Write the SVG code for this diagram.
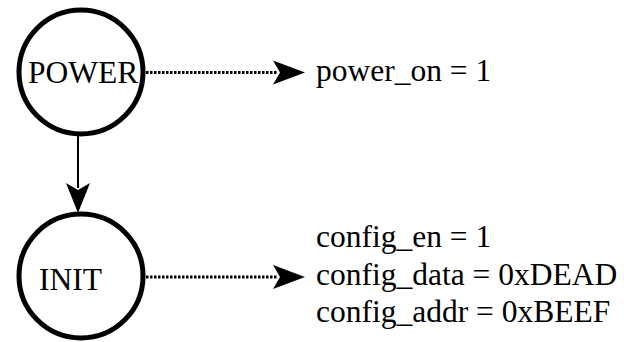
<svg xmlns="http://www.w3.org/2000/svg" width="624" height="342" viewBox="0 0 624 342">
  <style>
    .state { fill: #ffffff; stroke: #000000; stroke-width: 5; }
    .label { font-family: "Liberation Serif", "Times New Roman", serif; font-size: 31.5px; fill: #000000; }
    .flow { stroke: #000000; stroke-width: 2; fill: none; }
    .dotted { stroke: #000000; stroke-width: 3; stroke-dasharray: 2.5 1.5; fill: none; }
    .head { fill: #000000; stroke: none; }
  </style>
  <rect width="624" height="342" fill="#ffffff"/>

  <g id="connectors">
    <!-- POWER -> INIT transition -->
    <line class="flow" x1="78" y1="136" x2="78" y2="188"/>
    <path class="head" d="M78 213 L66 183 L78 190 L90 183 Z"/>
    <!-- POWER output -->
    <line class="dotted" x1="146" y1="72.5" x2="278" y2="72.5"/>
    <path class="head" d="M305 72.5 L273 60.5 L280 72.5 L273 84.5 Z"/>
    <!-- INIT outputs -->
    <line class="dotted" x1="146" y1="277" x2="278" y2="277"/>
    <path class="head" d="M305 277 L273 265 L280 277 L273 289 Z"/>
  </g>

  <g id="power">
    <circle class="state" cx="81" cy="72" r="62"/>
    <text class="label" x="28" y="83">POWER</text>
  </g>

  <g id="init">
    <circle class="state" cx="81" cy="276" r="62"/>
    <text class="label" x="39" y="290">INIT</text>
  </g>

  <g id="power-outputs">
    <text class="label" x="316" y="81">power_on = 1</text>
  </g>

  <g id="init-outputs">
    <text class="label" x="316" y="247">config_en = 1</text>
    <text class="label" x="316" y="285">config_data = 0xDEAD</text>
    <text class="label" x="316" y="322">config_addr = 0xBEEF</text>
  </g>
</svg>
